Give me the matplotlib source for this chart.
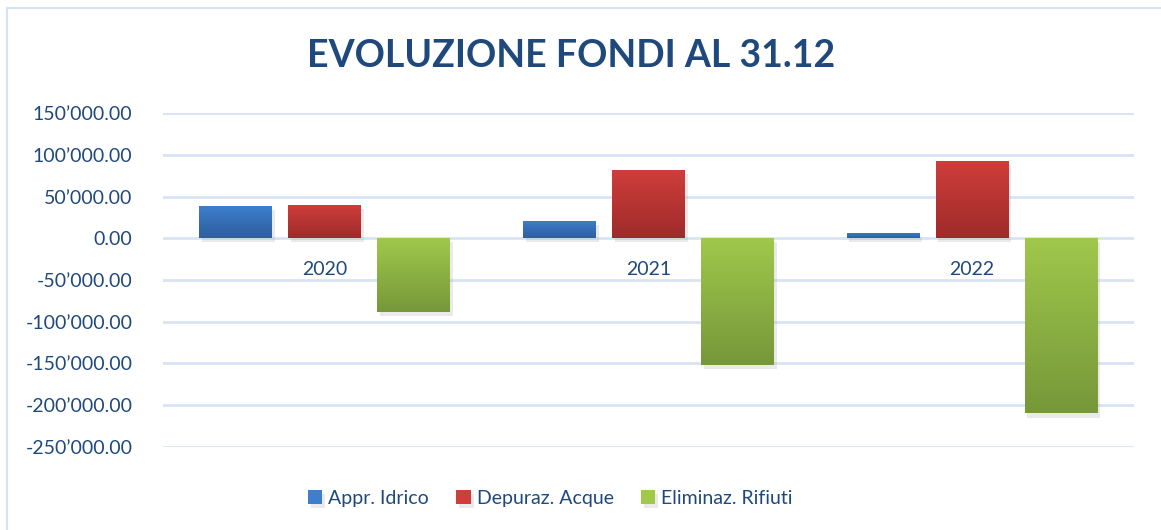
import numpy as np
import matplotlib
matplotlib.use("Agg")
import matplotlib.pyplot as plt
import matplotlib.patheffects as pe
from matplotlib.colors import LinearSegmentedColormap
from matplotlib.ticker import FuncFormatter
from matplotlib.patches import Rectangle

# dati
anni = ["2020", "2021", "2022"]
serie = ["Appr. Idrico", "Depuraz. Acque", "Eliminaz. Rifiuti"]
appr_idrico = [39000, 21000, 6500]
depuraz_acque = [40000, 82000, 93000]
eliminaz_rifiuti = [-88000, -152000, -210000]

valori = [appr_idrico, depuraz_acque, eliminaz_rifiuti]
# colore chiaro (alto) -> scuro (basso)
colori = [("#3D7FCE", "#2E5E9C"), ("#CF3E3B", "#9E2B2A"), ("#A0C84B", "#76973A")]
blu_testo = "#1F497D"

plt.rcParams['font.family'] = ['Lato', 'DejaVu Sans']

fig = plt.figure(figsize=(11.61, 5.30), dpi=100)
ax = fig.add_axes([0.1404, 0.1572, 0.8363, 0.629])

# bordo della figura
fig.patches.append(Rectangle((0.006, -0.05), 1.1, 1.035, transform=fig.transFigure,
                             fill=False, edgecolor="#D6E2F5", lw=1.5))

x = np.arange(len(anni))
larg = 0.225
offs = [-0.275, 0.0, 0.275]

for i in range(len(serie)):
    c_top, c_bot = colori[i]
    cmap = LinearSegmentedColormap.from_list("g%d" % i, [c_bot, c_top])
    bars = ax.bar(x + offs[i], valori[i], width=larg, color=c_top, label=serie[i], zorder=3,
                  path_effects=[pe.SimplePatchShadow(offset=(2, -3), shadow_rgbFace="#999999", alpha=0.2),
                                pe.Normal()])
    for b in bars:
        x0, y0 = b.get_x(), b.get_y()
        w, h = b.get_width(), b.get_height()
        y_lo, y_hi = min(y0, y0 + h), max(y0, y0 + h)
        grad = np.linspace(0, 1, 256).reshape(-1, 1)
        im = ax.imshow(grad, cmap=cmap, origin="lower", aspect="auto",
                       extent=(x0, x0 + w, y_lo, y_hi), zorder=4)
        im.set_clip_path(b)

ax.set_xlim(-0.5, 2.5)
ax.set_ylim(-250000, 150000)
ax.set_yticks(np.arange(-250000, 150001, 50000))
ax.yaxis.set_major_formatter(FuncFormatter(lambda v, p: f"{v:,.2f}".replace(",", "\u2019")))
ax.grid(axis="y", color="#D9E3F3", lw=2, zorder=0)

ax.set_xticks(x)
ax.set_xticklabels(anni)
ax.spines['bottom'].set_position(('data', 0))
for s in ax.spines.values():
    s.set_visible(False)
ax.tick_params(axis="x", length=0, pad=16, labelsize=14, labelcolor=blu_testo)
ax.tick_params(axis="y", length=0, pad=22, labelsize=14, labelcolor=blu_testo)

fig.text(0.492, 0.895, "EVOLUZIONE FONDI AL 31.12", ha="center", va="center",
         fontsize=27, fontweight="bold", color=blu_testo)

leg = fig.legend(loc="center", bbox_to_anchor=(0.474, 0.06), ncol=3, frameon=False,
                 handlelength=0.75, handleheight=0.75, handletextpad=0.3, columnspacing=1.4,
                 fontsize=14)
for t in leg.get_texts():
    t.set_color(blu_testo)

fig.savefig("out.png", dpi=100)
